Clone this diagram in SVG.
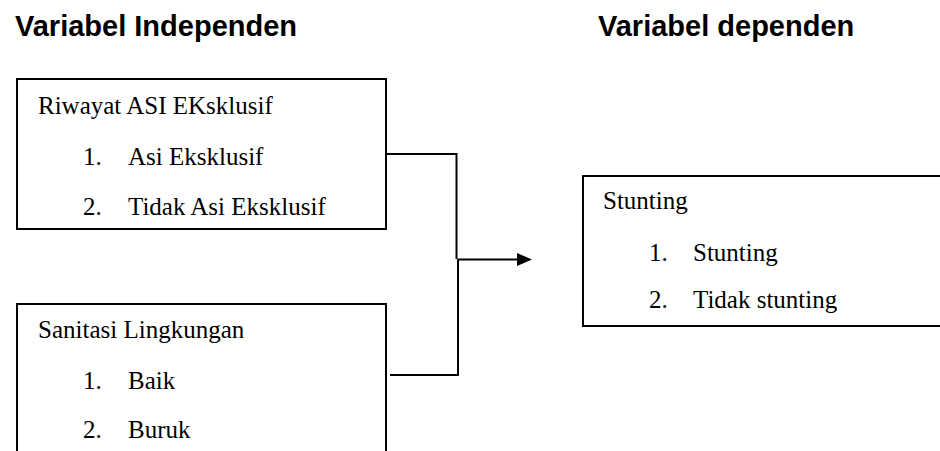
<svg xmlns="http://www.w3.org/2000/svg" width="940" height="451" viewBox="0 0 940 451">
<defs>
<style>
.h{font-family:"Liberation Sans",Arial,sans-serif;font-weight:bold;font-size:29px;fill:#000}
.t{font-family:"Liberation Serif","Times New Roman",serif;font-size:25px;fill:#000}
.box{fill:#fff;stroke:#000;stroke-width:2}
.ln{fill:none;stroke:#000;stroke-width:2}
</style>
</defs>
<rect width="940" height="451" fill="#fff"/>
<g id="headings">
<text class="h" x="15" y="36">Variabel Independen</text>
<text class="h" x="598" y="36">Variabel dependen</text>
</g>
<g id="connectors">
<path class="ln" d="M386 154 H456.5 V259"/>
<path class="ln" d="M390 375 H458 V259"/>
<path class="ln" d="M458 259.5 H518"/>
<path d="M517 253 L532 259.5 L517 266 Z" fill="#000"/>
</g>
<g id="node-asi">
<rect class="box" x="17" y="79" width="369" height="150"/>
<text class="t" x="38" y="114">Riwayat ASI EKsklusif</text>
<text class="t" x="83" y="165">1.</text>
<text class="t" x="128" y="165">Asi Eksklusif</text>
<text class="t" x="83" y="215">2.</text>
<text class="t" x="128" y="215">Tidak Asi Eksklusif</text>
</g>
<g id="node-sanitasi">
<rect class="box" x="17" y="304" width="369" height="160"/>
<text class="t" x="38" y="338">Sanitasi Lingkungan</text>
<text class="t" x="83" y="389">1.</text>
<text class="t" x="128" y="389">Baik</text>
<text class="t" x="83" y="438">2.</text>
<text class="t" x="128" y="438">Buruk</text>
</g>
<g id="node-stunting">
<rect class="box" x="583" y="176" width="370" height="150"/>
<text class="t" x="603" y="209">Stunting</text>
<text class="t" x="649" y="261">1.</text>
<text class="t" x="693" y="261">Stunting</text>
<text class="t" x="649" y="308">2.</text>
<text class="t" x="693" y="308">Tidak stunting</text>
</g>
</svg>
